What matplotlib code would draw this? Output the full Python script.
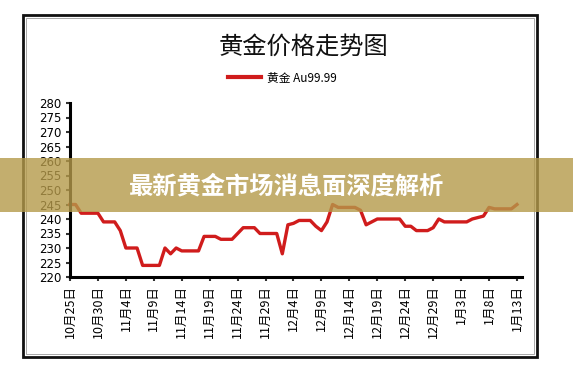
import numpy as np
import matplotlib
matplotlib.use('Agg')
import matplotlib.pyplot as plt
import matplotlib.patches as mpatches
from matplotlib.lines import Line2D

plt.rcParams['font.family'] = ['Noto Sans CJK SC', 'DejaVu Sans']

# ----------------------------------------------------------------
# Data: daily Au99.99 price, 10/25 .. 1/13 (one value per calendar day)
# ----------------------------------------------------------------
prices = [
    245, 245, 242, 242, 242, 242, 239, 239, 239, 236,
    230, 230, 230, 224, 224, 224, 224, 230, 228, 230,
    229, 229, 229, 229, 234, 234, 234, 233, 233, 233,
    235, 237, 237, 237, 235, 235, 235, 235, 228, 238,
    238.5, 239.5, 239.5, 239.5, 237.5, 236, 239, 245, 244, 244,
    244, 244, 243, 238, 239, 240, 240, 240, 240, 240,
    237.5, 237.5, 236, 236, 236, 237, 240, 239, 239, 239,
    239, 239, 240, 240.5, 241, 244, 243.5, 243.5, 243.5, 243.5,
    245,
]
tick_days = list(range(0, 81, 5))
tick_labels = [
    '10月25日', '10月30日', '11月4日', '11月9日', '11月14日', '11月19日',
    '11月24日', '11月29日', '12月4日', '12月9日', '12月14日', '12月19日',
    '12月24日', '12月29日', '1月3日', '1月8日', '1月13日',
]
y_ticks = list(range(220, 281, 5))

days = np.arange(len(prices))

# ----------------------------------------------------------------
# Figure
# ----------------------------------------------------------------
W, H = 573, 370
fig = plt.figure(figsize=(W / 100, H / 100), dpi=100)
fig.patch.set_facecolor('white')

# outer chart frame
fig.patches.append(mpatches.Rectangle(
    (23 / W, 1 - 357 / H), (537 - 23) / W, (357 - 15) / H,
    transform=fig.transFigure, fill=False,
    edgecolor='#111111', linewidth=2.0, zorder=1))
fig.patches.append(mpatches.Rectangle(
    (26 / W, 1 - 354 / H), (534 - 26) / W, (354 - 18) / H,
    transform=fig.transFigure, fill=False,
    edgecolor='#9a9a9a', linewidth=0.6, zorder=1))

ax = fig.add_axes([70 / W, 1 - 277 / H, (522 - 70) / W, (277 - 103) / H])
ax.plot(days, prices, color='#d01c1c', linewidth=2.4,
        solid_joinstyle='round', clip_on=False)

ax.set_xlim(0, 80.9)
ax.set_ylim(220, 280)
ax.set_yticks(y_ticks)
ax.set_yticklabels([str(v) for v in y_ticks], fontsize=8.5,
                   family='DejaVu Sans')
ax.set_xticks(tick_days)
ax.set_xticklabels(tick_labels, rotation=90, fontsize=9)

for side in ['top', 'right']:
    ax.spines[side].set_visible(False)
for side in ['left', 'bottom']:
    ax.spines[side].set_linewidth(2.2)
    ax.spines[side].set_color('black')
ax.tick_params(axis='both', direction='out', length=3, width=1.5,
               color='#333333', pad=3)
ax.set_facecolor('none')

# title and legend
fig.text(304 / W, 1 - 47 / H, '黄金价格走势图', fontsize=17.5,
         ha='center', va='center', color='#111111')
handle = Line2D([], [], color='#d01c1c', linewidth=3)
fig.legend(handles=[handle], labels=['黄金 Au99.99'], loc='center',
           bbox_to_anchor=(282 / W, 1 - 78 / H), frameon=False,
           fontsize=8.5, handlelength=2.8, handletextpad=0.5)

# overlay banner
fig.patches.append(mpatches.Rectangle(
    (0, 1 - 212 / H), 1, (212 - 158) / H,
    transform=fig.transFigure, facecolor='#b59a4a', alpha=0.8,
    edgecolor='none', zorder=10))
fig.text(287 / W, 1 - 186 / H, '最新黄金市场消息面深度解析',
         fontsize=17.5, fontweight='bold', color='white',
         ha='center', va='center', zorder=11)

fig.savefig('out.png', dpi=100, facecolor='white')
